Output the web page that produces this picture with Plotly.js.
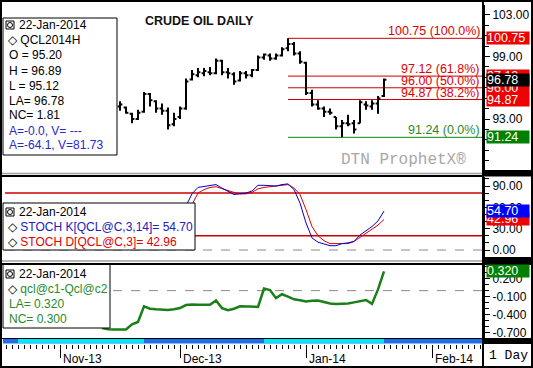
<!DOCTYPE html>
<html><head><meta charset="utf-8">
<script src="https://cdn.plot.ly/plotly-3.0.1.min.js"></script>
<style>html,body{margin:0;padding:0;background:#fff;overflow:hidden}#chart{width:533px;height:368px}</style>
</head><body><div id="chart"></div>
<script>
// x = trading-day index: 0 = 1-Nov-2013 ... 54 = 22-Jan-2014
const monthTickIdx = [0, 20, 41, 62];
const monthLabels = ['Nov-13', 'Dec-13', 'Jan-14', 'Feb-14'];
const lastDate = '22-Jan-2014';
const symbol = 'QCL2014H';

const priceStart = 10;
const open  = [94.2,94.1,93.5,93.0,93.7,95.4,94.7,94.0,93.8,92.5,93.2,94.0,96.8,97.2,97.4,97.5,97.4,98.6,97.5,97.3,96.7,97.4,97.2,97.7,98.9,99.1,98.8,99.1,99.8,100.2,99.3,98.4,95.5,94.4,94.0,93.7,93.2,92.3,92.6,92.6,92.6,94.4,94.2,94.5,95.20];
const high  = [94.7,94.2,93.6,93.9,95.6,95.5,94.8,94.5,94.1,93.6,94.2,96.9,97.7,97.9,97.9,98.0,98.8,98.7,97.9,97.5,97.6,97.6,97.8,99.1,99.3,99.3,99.3,99.9,100.75,100.4,99.5,98.5,95.8,94.8,94.2,94.0,93.2,92.9,93.4,92.9,94.8,94.7,94.8,95.2,96.89];
const low   = [93.8,93.5,92.6,92.9,93.6,94.2,93.6,93.4,92.0,92.3,93.0,93.9,96.7,97.0,97.1,97.2,97.3,97.2,96.9,96.3,96.6,96.9,97.0,97.6,98.7,98.6,98.7,99.0,99.5,99.1,98.3,95.3,94.2,93.9,93.2,93.4,92.0,91.24,92.3,91.6,92.6,93.9,93.9,93.5,95.12];
const close = [94.4,93.6,93.0,93.6,95.4,94.8,94.0,93.8,92.4,93.0,94.0,96.6,97.3,97.5,97.6,97.4,98.6,97.5,97.4,96.6,97.4,97.2,97.7,98.9,99.2,98.8,99.1,99.7,100.2,99.3,98.5,95.5,94.4,94.0,93.7,93.6,92.3,92.6,92.5,92.0,94.6,94.3,94.5,94.97,96.78];

const fibStartIdx = 38;
const fibLevels = [100.75, 97.12, 96.00, 94.87, 91.24];
const fibPct = ['100.0%', '61.8%', '50.0%', '38.2%', '0.0%'];

const stochStart = 20;
const stochK = [45,62,79,88,89,90,92,87,82,78,79,80,83,91,91,90,90,92,93,85,66,38,17,11,9,6,6,9,10,12,21,27,33,41,54.70];
const stochD = [40,55,64,80,85,88,89,86,83,81,79,79,81,86,88,89,91,92,92,87,78,57,33,20,13,9,9,9,9,12,18,24,30,35,42.96];
const stochBands = [80, 20];

const spreadStart = 7;
const spread = [-0.62,-0.64,-0.645,-0.645,-0.645,-0.56,-0.52,-0.26,-0.30,-0.31,-0.32,-0.32,-0.31,-0.29,-0.24,-0.23,-0.235,-0.235,-0.235,-0.165,-0.29,-0.325,-0.30,-0.26,-0.265,-0.27,-0.27,0.035,0.01,-0.125,-0.06,-0.10,-0.145,-0.16,-0.18,-0.17,-0.165,-0.19,-0.215,-0.22,-0.22,-0.215,-0.195,-0.17,-0.155,-0.22,0.02,0.32];

const priceTicks = [93, 99, 103];
const stochTicks = [0, 30, 60, 90];
const spreadTicks = [-0.7, -0.4, -0.1, 0.2];

// ---------- helpers ----------
const W = 533, H = 368;
const X = p => p / W;
const Y = p => 1 - p / H;
const idx = (start, arr) => arr.map((_, k) => start + k);
const FONT = 'Arial, "Liberation Sans", sans-serif';
const RED = '#e00000', LINE_RED = '#cc0000', GREEN = '#0a8a0a', BLUE = '#0000e0';

const priceX = idx(priceStart, close);
const last = close.length - 1;

const traces = [
  { type: 'ohlc', x: priceX, open: open, high: high, low: low, close: close,
    xaxis: 'x', yaxis: 'y', tickwidth: 0.4, hoverinfo: 'skip',
    increasing: { line: { color: '#000', width: 2 } },
    decreasing: { line: { color: '#000', width: 2 } } },
  { type: 'scatter', mode: 'lines', x: idx(stochStart, stochD), y: stochD, yaxis: 'y2',
    line: { color: '#e00000', width: 1 }, hoverinfo: 'skip' },
  { type: 'scatter', mode: 'lines', x: idx(stochStart, stochK), y: stochK, yaxis: 'y2',
    line: { color: '#0000cc', width: 1 }, hoverinfo: 'skip' },
  { type: 'scatter', mode: 'lines', x: idx(spreadStart, spread), y: spread, yaxis: 'y3',
    line: { color: '#1a7f1a', width: 2.5 }, hoverinfo: 'skip' }
];

const xr0 = -55 / 6, xr1 = xr0 + 478 / 6;

const yBase = {
  side: 'right', anchor: 'x', showgrid: false, zeroline: false, fixedrange: true,
  showline: true, linecolor: '#000', linewidth: 2, ticks: 'outside', ticklen: 5,
  tickcolor: '#000', tickfont: { family: FONT, size: 12, color: '#000' }, tickmode: 'array'
};

const shapes = [];
const annotations = [];

// fib lines
fibLevels.forEach((lv, k) => {
  const col = k === fibLevels.length - 1 ? GREEN : LINE_RED;
  shapes.push({ type: 'line', xref: 'x', yref: 'y', x0: fibStartIdx, x1: xr1, y0: lv, y1: lv,
    line: { color: col, width: 1 }, layer: 'below' });
  annotations.push({ xref: 'paper', yref: 'y', x: X(481), y: lv, xanchor: 'right', yanchor: 'bottom',
    text: lv.toFixed(2) + ' (' + fibPct[k] + ')', showarrow: false, borderpad: 0, yshift: -1,
    font: { family: FONT, size: 12.5, color: k === fibLevels.length - 1 ? '#2a8a2a' : RED } });
});
// stoch bands and zero lines
stochBands.forEach(b => shapes.push({ type: 'line', xref: 'paper', yref: 'y2', x0: X(5), x1: X(482), y0: b, y1: b,
  line: { color: LINE_RED, width: 1.5 }, layer: 'below' }));
shapes.push({ type: 'line', xref: 'paper', yref: 'y2', x0: X(5), x1: X(482), y0: 0, y1: 0, line: { color: '#888', width: 1, dash: 'dash' }, layer: 'below' });
shapes.push({ type: 'line', xref: 'paper', yref: 'y3', x0: X(5), x1: X(482), y0: 0, y1: 0, line: { color: '#888', width: 1, dash: 'dash' }, layer: 'below' });

// legend boxes
const box = (x0, y0, x1, y1) => shapes.push({ type: 'rect', xref: 'paper', yref: 'paper',
  x0: X(x0), x1: X(x1), y0: Y(y1), y1: Y(y0), fillcolor: '#fff', line: { color: '#000', width: 1 }, layer: 'above' });
const icon = (cy) => {
  shapes.push({ type: 'rect', xref: 'paper', yref: 'paper', x0: X(6), x1: X(14), y0: Y(cy + 4), y1: Y(cy - 4),
    fillcolor: '#fff', line: { color: '#000', width: 1 }, layer: 'above' });
  shapes.push({ type: 'circle', xref: 'paper', yref: 'paper', x0: X(7.5), x1: X(12.5), y0: Y(cy + 2.5), y1: Y(cy - 2.5),
    line: { color: '#000', width: 1 }, layer: 'above' });
};
const txt = (x, y, text, color, size) => annotations.push({ xref: 'paper', yref: 'paper', x: X(x), y: Y(y),
  xanchor: 'left', yanchor: 'middle', text: text, showarrow: false, borderpad: 0,
  font: { family: FONT, size: size || 12, color: color || '#000' } });
const dia = '<span style="color:#000">◇</span> ';

box(3, 18, 117, 155); icon(25);
txt(18, 25, lastDate);
txt(7, 40.5, dia + symbol);
txt(8, 55.5, 'O = ' + open[last].toFixed(2));
txt(8, 70.5, 'H = ' + high[last].toFixed(2));
txt(8, 85.5, 'L = ' + low[last].toFixed(2));
txt(8, 100.5, 'LA= ' + close[last].toFixed(2));
txt(8, 115.5, 'NC= ' + (close[last] - close[last - 1]).toFixed(2));
txt(8, 130.5, 'A=-0.0, V= ---', '#2828c8');
txt(8, 145.5, 'A=-64.1, V=81.73', '#2828c8');

box(3, 203, 195, 250); icon(212);
txt(18, 212, lastDate);
txt(7, 227, dia + 'STOCH K[QCL@C,3,14]= ' + stochK[stochK.length - 1].toFixed(2), '#2020c0');
txt(7, 242, dia + 'STOCH D[QCL@C,3]= ' + stochD[stochD.length - 1].toFixed(2), RED);

box(3, 264, 110, 328); icon(274);
txt(18, 274, lastDate);
txt(7, 289, dia + 'qcl@c1-Qcl@c2', '#2a8a2a');
txt(8, 304, 'LA= ' + spread[spread.length - 1].toFixed(3), '#2a8a2a');
txt(8, 319, 'NC= ' + (spread[spread.length - 1] - spread[spread.length - 2]).toFixed(3), '#2a8a2a');

// title and watermark
txt(144, 21, '<b>CRUDE OIL DAILY</b>', '#111', 12.5);
annotations.push({ xref: 'paper', yref: 'paper', x: X(339), y: Y(160), xanchor: 'left', yanchor: 'middle',
  text: 'DTN ProphetX®', showarrow: false, font: { family: '"Liberation Mono", "Courier New", monospace', size: 16, color: '#a8a8a8' } });

// right-side value boxes
const vbox = (yref, val, label, bg, fg) => annotations.push({ xref: 'paper', yref: yref, x: X(486), y: val,
  xanchor: 'left', yanchor: 'middle', text: label, showarrow: false, bgcolor: bg, width: 42, height: 12,
  align: 'left', borderpad: 0, font: { family: FONT, size: 12.5, color: fg || '#fff' } });
vbox('y', fibLevels[0], fibLevels[0].toFixed(2), '#f00000');
vbox('y', fibLevels[1], fibLevels[1].toFixed(2), '#f00000');
vbox('y', fibLevels[2], fibLevels[2].toFixed(2), '#f00000');
vbox('y', fibLevels[3], fibLevels[3].toFixed(2), '#f00000');
vbox('y', close[last], close[last].toFixed(2), '#000000');
vbox('y', fibLevels[4], fibLevels[4].toFixed(2), '#008000');
vbox('y2', stochD[stochD.length - 1], stochD[stochD.length - 1].toFixed(2), '#f00000');
vbox('y2', stochK[stochK.length - 1], stochK[stochK.length - 1].toFixed(2), '#0000ff');
vbox('y3', spread[spread.length - 1], spread[spread.length - 1].toFixed(3), '#008000');

// month labels
monthTickIdx.forEach((m, k) => annotations.push({ xref: 'x', yref: 'paper', x: m, y: Y(359), xanchor: 'left', yanchor: 'middle',
  xshift: 1, text: monthLabels[k], showarrow: false, font: { family: FONT, size: 12, color: '#000' } }));
annotations.push({ xref: 'paper', yref: 'paper', x: X(487), y: Y(355), xanchor: 'left', yanchor: 'middle',
  text: '1 Day', showarrow: false, font: { family: '"Liberation Mono", "Courier New", monospace', size: 13, color: '#000' } });

// frame, separators, strip
const prect = (x0, y0, x1, y1, fill) => shapes.push({ type: 'rect', xref: 'paper', yref: 'paper',
  x0: X(x0), x1: X(x1), y0: Y(y1), y1: Y(y0), fillcolor: fill, line: { width: 0 }, layer: 'above' });
const hline = (x0, x1, y, col, w) => shapes.push({ type: 'line', xref: 'paper', yref: 'paper',
  x0: X(x0), x1: X(x1), y0: Y(y), y1: Y(y), line: { color: col, width: w }, layer: 'above' });
hline(0, 483, 173.5, '#a0a0a0', 1.5); hline(0, 483, 176, '#000', 2);
hline(0, 483, 261, '#a0a0a0', 1.5); hline(0, 483, 264, '#000', 2);
prect(483, 170, 533, 176.5, '#000');
prect(483, 257, 533, 265, '#000');
prect(483, 338, 533, 344, '#000');
// strip under bottom panel
shapes.push({ type: 'rect', xref: 'paper', yref: 'paper', x0: X(3), x1: X(483), y0: Y(343.5), y1: Y(338.5), fillcolor: '#1e6ee6', line: { width: 0 }, layer: 'above' });
shapes.push({ type: 'rect', xref: 'x', yref: 'paper', x0: -7, x1: 14, y0: Y(343), y1: Y(339), fillcolor: '#00e8f8', line: { width: 0 }, layer: 'above' });
shapes.push({ type: 'rect', xref: 'x', yref: 'paper', x0: 34, x1: 54, y0: Y(343), y1: Y(339), fillcolor: '#00e8f8', line: { width: 0 }, layer: 'above' });
hline(0, 483, 338.5, '#000', 1);
shapes.push({ type: 'line', xref: 'paper', yref: 'paper', x0: X(483), x1: X(483), y0: 0, y1: 1, line: { color: '#000', width: 2 }, layer: 'above' });
shapes.push({ type: 'rect', xref: 'paper', yref: 'paper', x0: X(1), x1: X(532), y0: Y(367), y1: Y(1), line: { color: '#000', width: 2 }, layer: 'above' });

const layout = {
  width: W, height: H, margin: { l: 0, r: 0, t: 0, b: 0 }, showlegend: false,
  paper_bgcolor: '#fff', plot_bgcolor: '#fff', dragmode: false,
  xaxis: { domain: [X(5), X(483)], range: [xr0, xr1], anchor: 'free', position: Y(344),
    showgrid: false, zeroline: false, showline: false, fixedrange: true, rangeslider: { visible: false },
    tickmode: 'array', tickvals: monthTickIdx, ticks: 'outside', ticklen: 13, tickcolor: '#000', tickwidth: 1,
    showticklabels: false,
    minor: { tickmode: 'linear', tick0: 0, dtick: 1, ticks: 'outside', ticklen: 4, tickcolor: '#000', tickwidth: 1 } },
  yaxis: Object.assign({}, yBase, { domain: [Y(172), Y(5)], range: [87.909, 103.951],
    tickvals: priceTicks, ticktext: priceTicks.map(v => v.toFixed(2)),
    minor: { tickmode: 'linear', tick0: 0, dtick: 1, ticks: 'outside', ticklen: 4, tickcolor: '#000' } }),
  yaxis2: Object.assign({}, yBase, { domain: [Y(261), Y(177)], range: [-15.47, 102.67],
    tickvals: stochTicks, ticktext: stochTicks.map(v => v.toFixed(2)),
    minor: { tickmode: 'linear', tick0: 0, dtick: 10, ticks: 'outside', ticklen: 4, tickcolor: '#000' } }),
  yaxis3: Object.assign({}, yBase, { domain: [Y(338), Y(265)], range: [-0.787, 0.426],
    tickvals: spreadTicks, ticktext: spreadTicks.map(v => v.toFixed(3)),
    minor: { tickmode: 'linear', tick0: 0, dtick: 0.1, ticks: 'outside', ticklen: 4, tickcolor: '#000' } }),
  shapes: shapes, annotations: annotations
};

Plotly.newPlot('chart', traces, layout, { staticPlot: true, displayModeBar: false });
</script>
</body></html>
